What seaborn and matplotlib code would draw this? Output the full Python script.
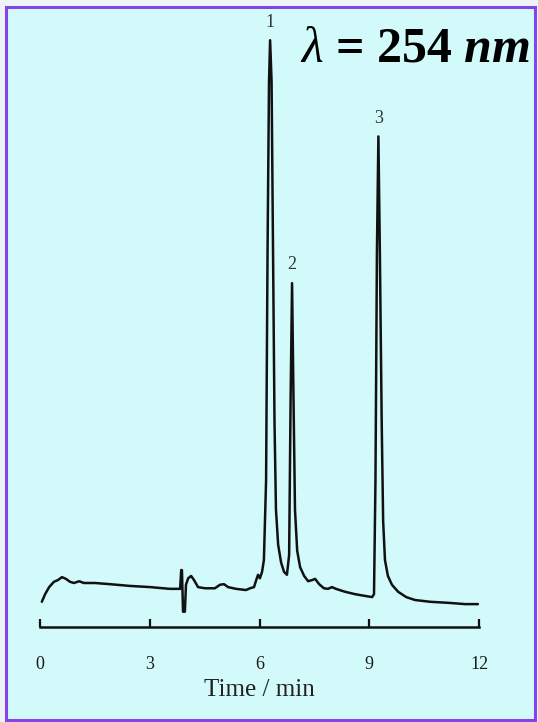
import numpy as np
import pandas as pd
import matplotlib
matplotlib.use("Agg")
import matplotlib.pyplot as plt
from matplotlib.patches import Rectangle
import seaborn as sns

# Chromatogram trace (time in min, relative response)
time_min = [
    0.05, 0.14, 0.25, 0.38, 0.49, 0.60, 0.71, 0.82, 0.93, 1.07,
    1.20, 1.50, 1.91, 2.46, 3.01, 3.55, 3.83, 3.86, 3.88, 3.91,
    3.96, 3.99, 4.05, 4.13, 4.21, 4.32, 4.51, 4.78, 4.92, 5.03,
    5.14, 5.36, 5.63, 5.74, 5.85, 5.91, 5.96, 6.01, 6.07, 6.12,
    6.18, 6.22, 6.26, 6.29, 6.33, 6.37, 6.41, 6.45, 6.51, 6.59,
    6.67, 6.75, 6.81, 6.85, 6.89, 6.93, 6.97, 7.03, 7.11, 7.22,
    7.33, 7.44, 7.52, 7.63, 7.76, 7.87, 7.98, 8.09, 8.34, 8.61,
    8.88, 9.08, 9.13, 9.17, 9.21, 9.25, 9.29, 9.34, 9.38, 9.43,
    9.51, 9.62, 9.79, 10.01, 10.25, 10.66, 11.21, 11.62, 11.97,
]
response = [
    4.3, 5.6, 6.8, 7.7, 8.0, 8.5, 8.2, 7.7, 7.5, 7.8,
    7.5, 7.5, 7.3, 7.0, 6.8, 6.5, 6.5, 9.7, 9.7, 2.6,
    2.6, 7.2, 8.3, 8.7, 8.0, 6.8, 6.6, 6.6, 7.2, 7.3,
    6.8, 6.5, 6.3, 6.6, 6.8, 8.0, 8.9, 8.3, 9.4, 11.4,
    25.0, 64.0, 93.0, 100.0, 93.0, 64.0, 35.0, 20.0, 14.0, 11.0,
    9.4, 8.9, 12.3, 38.7, 58.6, 38.7, 20.0, 13.0, 10.2, 8.7,
    7.8, 8.0, 8.2, 7.3, 6.6, 6.5, 6.8, 6.5, 6.0, 5.6,
    5.3, 5.1, 5.6, 25.0, 64.0, 83.6, 64.0, 35.0, 18.0, 11.4,
    8.7, 7.2, 6.0, 5.1, 4.6, 4.3, 4.1, 3.9, 3.9,
]

# Peak apex positions and their labels
peak_times = [6.29, 6.89, 9.25]
peak_heights = [100.0, 58.6, 83.6]
peak_labels = ["1", "2", "3"]

x_ticks = [0, 3, 6, 9, 12]

df = pd.DataFrame({"time": time_min, "response": response})

sns.set_style("white")
plt.rcParams["font.family"] = ["Liberation Serif", "DejaVu Serif"]
plt.rcParams["mathtext.fontset"] = "custom"
plt.rcParams["mathtext.rm"] = "Liberation Serif"
plt.rcParams["mathtext.it"] = "Liberation Serif:italic"
plt.rcParams["mathtext.bf"] = "Liberation Serif:bold"
plt.rcParams["mathtext.bfit"] = "Liberation Serif:bold:italic"

fig = plt.figure(figsize=(5.38, 7.22), dpi=100, facecolor="#eef3f6")

# light cyan panel with purple frame
panel = Rectangle((5.5 / 538, 2 / 722), 529 / 538, 713 / 722,
                  transform=fig.transFigure, facecolor="#d2fafa",
                  edgecolor="#8445e8", linewidth=2.2, zorder=0)
fig.patches.append(panel)

ax = fig.add_axes([40 / 538, 95 / 722, 439 / 538, 612 / 722])
ax.set_facecolor("none")
ax.set_zorder(2)

sns.lineplot(data=df, x="time", y="response", ax=ax, color="#111111",
             linewidth=1.8, estimator=None, sort=False)

for t, h, lab in zip(peak_times, peak_heights, peak_labels):
    ax.annotate(lab, xy=(t, h), xytext=(0, 7), textcoords="offset points",
                ha="center", va="bottom", fontsize=13, color="#333333")

ax.set_xlim(0, 12)
ax.set_ylim(0, 104.3)
ax.set_xticks(x_ticks)
ax.set_xticklabels([str(v) for v in x_ticks])
ax.set_yticks([])
ax.set_ylabel("")
ax.set_xlabel("Time / min", fontsize=18, color="#222222", labelpad=4)

for side in ["left", "top", "right"]:
    ax.spines[side].set_visible(False)
ax.spines["bottom"].set_color("#111111")
ax.spines["bottom"].set_linewidth(1.8)
ax.tick_params(axis="x", bottom=True, direction="in", length=6, width=1.6,
               color="#111111", pad=21, labelsize=13, labelcolor="#1a1a1a")

fig.text(530 / 538, 661 / 722, r"$\lambda$ = 254 $\mathbfit{nm}$",
         ha="right", va="baseline", fontsize=36, fontweight="bold",
         color="black", zorder=3)

fig.savefig("out.png", dpi=100, facecolor=fig.get_facecolor())
